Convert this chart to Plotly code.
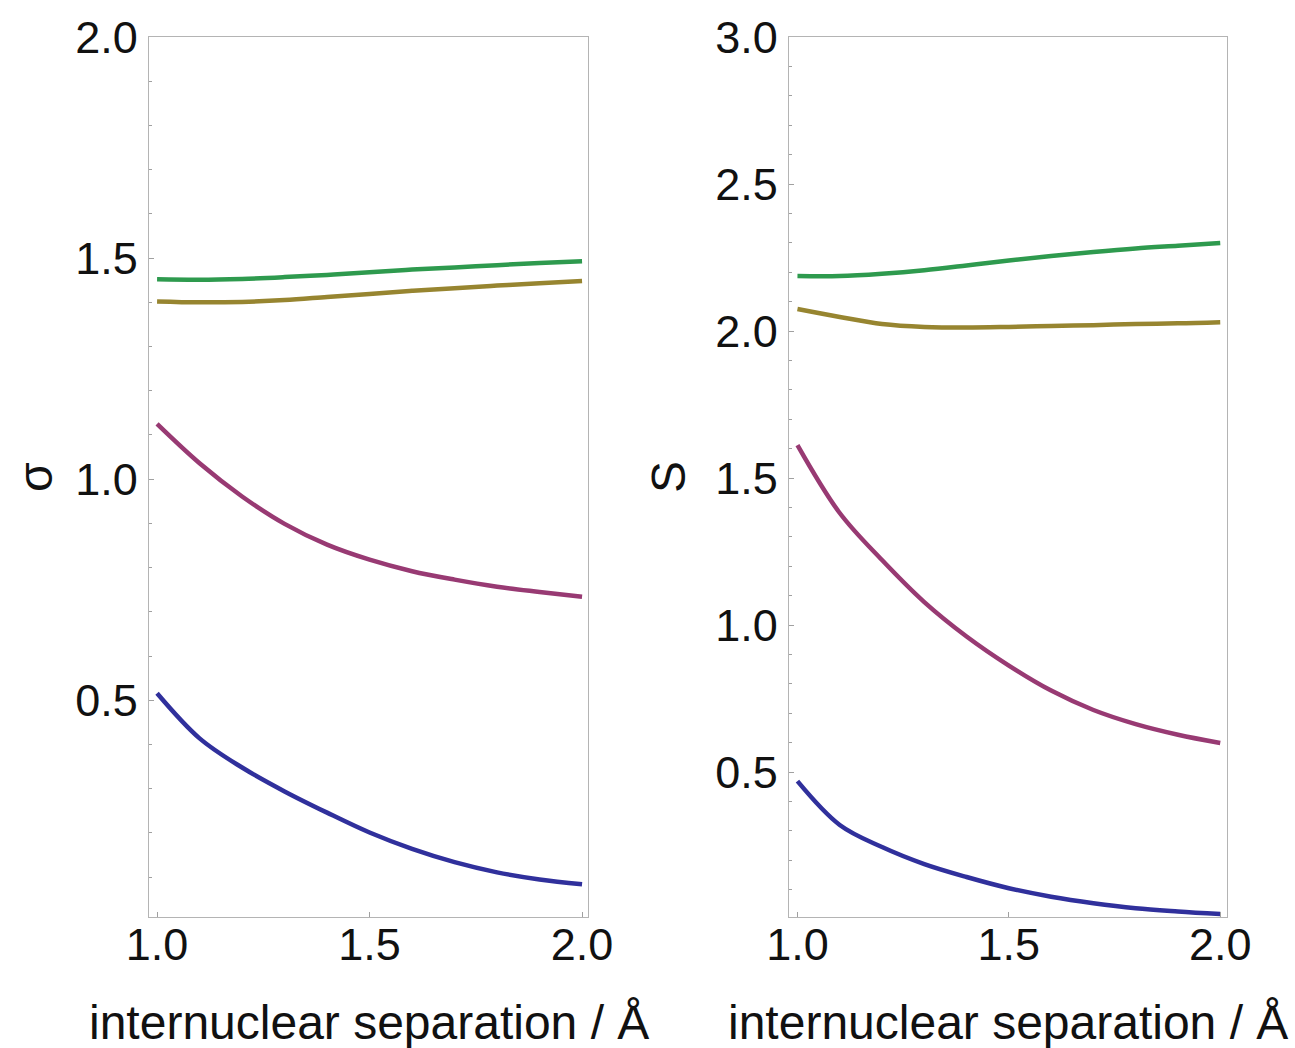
import plotly.graph_objects as go

# ---- data ----
r = [1.0, 1.1, 1.2, 1.3, 1.4, 1.5, 1.6, 1.7, 1.8, 1.9, 2.0]

sigma_blue   = [0.516, 0.414, 0.348, 0.294, 0.246, 0.201, 0.164, 0.134, 0.111, 0.095, 0.084]
sigma_purple = [1.125, 1.036, 0.961, 0.899, 0.852, 0.818, 0.792, 0.773, 0.757, 0.745, 0.734]
sigma_olive  = [1.402, 1.400, 1.401, 1.405, 1.412, 1.419, 1.426, 1.432, 1.438, 1.443, 1.448]
sigma_green  = [1.452, 1.451, 1.453, 1.457, 1.462, 1.468, 1.474, 1.479, 1.484, 1.489, 1.493]

S_blue   = [0.469, 0.320, 0.245, 0.187, 0.143, 0.105, 0.076, 0.054, 0.037, 0.026, 0.017]
S_purple = [1.612, 1.381, 1.221, 1.078, 0.961, 0.862, 0.777, 0.711, 0.663, 0.627, 0.599]
S_olive  = [2.075, 2.048, 2.024, 2.014, 2.012, 2.014, 2.017, 2.020, 2.024, 2.026, 2.030]
S_green  = [2.187, 2.187, 2.195, 2.207, 2.223, 2.240, 2.255, 2.269, 2.281, 2.290, 2.299]

x_ticks = [1.0, 1.5, 2.0]
sigma_ticks = [0.5, 1.0, 1.5, 2.0]
S_ticks = [0.5, 1.0, 1.5, 2.0, 2.5, 3.0]

colors = {"blue": "#30309c", "purple": "#983a73", "olive": "#978530", "green": "#2e9a4e"}

FONT = "Liberation Sans, Arial, sans-serif"
TICK_SIZE = 45
TITLE_SIZE = 48

fig = go.Figure()

left_series = [(sigma_blue, "blue"), (sigma_purple, "purple"), (sigma_olive, "olive"), (sigma_green, "green")]
right_series = [(S_blue, "blue"), (S_purple, "purple"), (S_olive, "olive"), (S_green, "green")]

for ys, c in left_series:
    fig.add_trace(go.Scatter(x=r, y=ys, mode="lines",
                             line=dict(color=colors[c], width=4.5, shape="spline", smoothing=1.0),
                             xaxis="x", yaxis="y", showlegend=False, hoverinfo="skip"))
for ys, c in right_series:
    fig.add_trace(go.Scatter(x=r, y=ys, mode="lines",
                             line=dict(color=colors[c], width=4.5, shape="spline", smoothing=1.0),
                             xaxis="x2", yaxis="y2", showlegend=False, hoverinfo="skip"))

W, H = 1295, 1048
axis_common = dict(
    showline=True, linecolor="#b4b4b4", linewidth=1.3, mirror=True,
    ticks="inside", tickcolor="#a0a0a0", ticklen=5, tickwidth=1,
    showgrid=False, zeroline=False, automargin=False,
    tickfont=dict(family=FONT, size=TICK_SIZE, color="#111111"),
)
minor_y = dict(dtick=0.1, tick0=0, ticks="inside", ticklen=3, tickcolor="#a0a0a0")

fig.update_layout(
    width=W, height=H,
    paper_bgcolor="white", plot_bgcolor="white",
    margin=dict(l=0, r=0, t=37, b=131),
    xaxis=dict(domain=[149 / W, 588 / W], range=[0.981, 2.014], tickvals=x_ticks,
               ticktext=[f"{v:.1f}" for v in x_ticks], anchor="y", ticklabelstandoff=-12,
               **axis_common),
    yaxis=dict(domain=[0, 1], range=[0.01, 2.0], tickvals=sigma_ticks,
               ticktext=[f"{v:.1f}" for v in sigma_ticks], anchor="x", ticklabelstandoff=1,
               minor=minor_y, **axis_common),
    xaxis2=dict(domain=[789 / W, 1227 / W], range=[0.98, 2.016], tickvals=x_ticks,
                ticktext=[f"{v:.1f}" for v in x_ticks], anchor="y2", ticklabelstandoff=-12,
                **axis_common),
    yaxis2=dict(domain=[0, 1], range=[0.007, 3.0], tickvals=S_ticks,
                ticktext=[f"{v:.1f}" for v in S_ticks], anchor="x2", ticklabelstandoff=1,
                minor=minor_y, **axis_common),
    annotations=[
        dict(text="internuclear separation / Å", x=0.5, xref="x domain", y=-105 / 880, yref="y domain",
             xanchor="center", yanchor="middle", showarrow=False,
             font=dict(family=FONT, size=TITLE_SIZE, color="#111111")),
        dict(text="internuclear separation / Å", x=0.5, xref="x2 domain", y=-105 / 880, yref="y2 domain",
             xanchor="center", yanchor="middle", showarrow=False,
             font=dict(family=FONT, size=TITLE_SIZE, color="#111111")),
        dict(text="σ", x=35 / W, xref="paper", y=0.5, yref="paper", textangle=-90,
             xanchor="center", yanchor="middle", showarrow=False,
             font=dict(family=FONT, size=TITLE_SIZE, color="#111111")),
        dict(text="S", x=668 / W, xref="paper", y=0.5, yref="paper", textangle=-90,
             xanchor="center", yanchor="middle", showarrow=False,
             font=dict(family=FONT, size=TITLE_SIZE, color="#111111")),
    ],
)

fig.write_html("out.html")
